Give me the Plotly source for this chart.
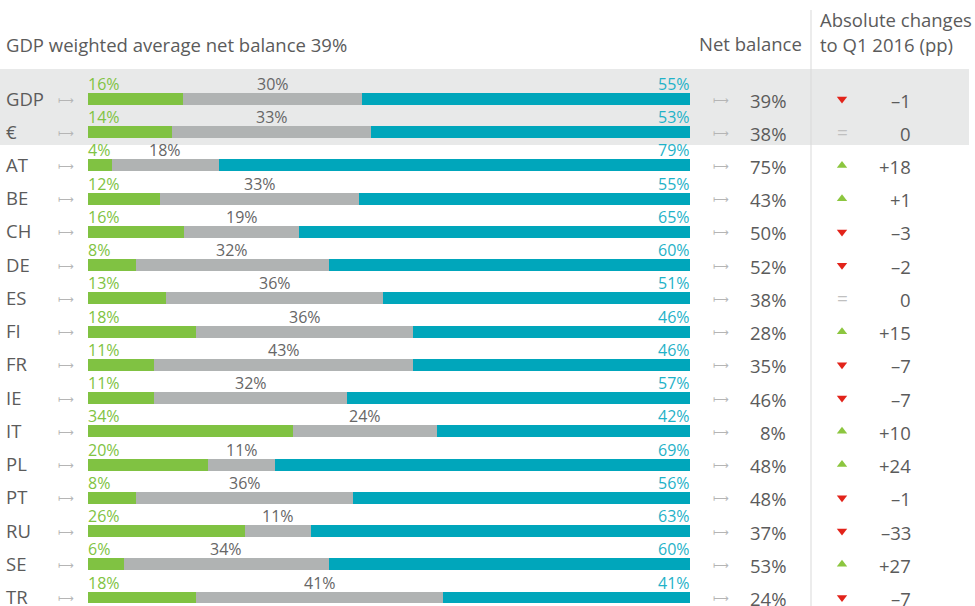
import plotly.graph_objects as go

countries = ["GDP", "€", "AT", "BE", "CH", "DE", "ES", "FI", "FR", "IE", "IT", "PL", "PT", "RU", "SE", "TR"]
green_vals = [16, 14, 4, 12, 16, 8, 13, 18, 11, 11, 34, 20, 8, 26, 6, 18]
gray_vals = [30, 33, 18, 33, 19, 32, 36, 36, 43, 32, 24, 11, 36, 11, 34, 41]
blue_vals = [55, 53, 79, 55, 65, 60, 51, 46, 46, 57, 42, 69, 56, 63, 60, 41]
net_balance = [39, 38, 75, 43, 50, 52, 38, 28, 35, 46, 8, 48, 48, 37, 53, 24]
abs_change = [-1, 0, 18, 1, -3, -2, 0, 15, -7, -7, 10, 24, -1, -33, 27, -7]

W, H = 975, 606
FONT = "Open Sans"
C_GREEN, C_GRAY, C_BLUE = "#80c242", "#b0b3b3", "#00a6bb"
T_GREEN, T_GRAY, T_BLUE, T_DARK = "#80c342", "#666666", "#1fb2c8", "#5b5b5b"

rows = list(range(len(countries)))
totals = [g + m + b for g, m, b in zip(green_vals, gray_vals, blue_vals)]
gn = [100 * g / t for g, t in zip(green_vals, totals)]
mn = [100 * m / t for m, t in zip(gray_vals, totals)]
bn = [100 * b / t for b, t in zip(blue_vals, totals)]

fig = go.Figure()
for vals, col in [(gn, C_GREEN), (mn, C_GRAY), (bn, C_BLUE)]:
    fig.add_trace(go.Bar(x=vals, y=rows, orientation="h", marker=dict(color=col, line=dict(width=0)),
                         width=0.36, xaxis="x", yaxis="y", showlegend=False, hoverinfo="skip"))

# change markers
up_idx = [i for i, c in enumerate(abs_change) if c > 0]
dn_idx = [i for i, c in enumerate(abs_change) if c < 0]
fig.add_trace(go.Scatter(x=[842] * len(up_idx), y=up_idx, mode="markers", xaxis="x2", yaxis="y2",
                         marker=dict(symbol="triangle-up", size=9, color="#8cc63f", line=dict(width=0)),
                         showlegend=False, hoverinfo="skip"))
fig.add_trace(go.Scatter(x=[842] * len(dn_idx), y=dn_idx, mode="markers", xaxis="x2", yaxis="y2",
                         marker=dict(symbol="triangle-down", size=9, color="#e2231a", line=dict(width=0)),
                         showlegend=False, hoverinfo="skip"))

ann = []
def A(x, y, text, size, color, xanchor="left", xref="x2", yref="y2", yshift=0, **kw):
    ann.append(dict(x=x, y=y, text=text, xref=xref, yref=yref, xanchor=xanchor, yanchor="middle",
                    showarrow=False, yshift=yshift, font=dict(family=FONT, size=size, color=color), **kw))

for i in rows:
    A(4, i, countries[i], 18.5, T_DARK, yshift=1)
    A(66, i, "⟼", 11, "#b5b5b5", xanchor="center")
    A(0, i, f"{green_vals[i]}%", 16, T_GREEN, xref="x", yref="y", yshift=15, xshift=-2)
    A(gn[i] + mn[i] / 2, i, f"{gray_vals[i]}%", 16, T_GRAY, xanchor="center", xref="x", yref="y", yshift=15)
    A(100, i, f"{blue_vals[i]}%", 16, T_BLUE, xanchor="right", xref="x", yref="y", yshift=15, xshift=2)
    A(721, i, "⟼", 11, "#b5b5b5", xanchor="center")
    A(788, i, f"{net_balance[i]}%", 18.5, T_DARK, xanchor="right", yshift=-1)
    c = abs_change[i]
    txt = "0" if c == 0 else (f"+{c}" if c > 0 else f"–{abs(c)}")
    A(913, i, txt, 18.5, T_DARK, xanchor="right", yshift=-1)
    if c == 0:
        A(842, i, "=", 19, "#c0c0c0", xanchor="center")

A(4, 44, "GDP weighted average net balance 39%", 18.5, T_DARK, yref="y3")
A(804, 43, "Net balance", 18.5, T_DARK, xanchor="right", yref="y3")
A(818, 19, "Absolute changes", 18.5, T_DARK, yref="y3")
A(818, 44, "to Q1 2016 (pp)", 18.5, T_DARK, yref="y3")

# y range so that row 0 -> pixel 99, row 15 -> pixel 597.5
pitch = (597.5 - 99) / 15
top = -99 / pitch
bottom = top + H / pitch

shapes = [
    dict(type="rect", xref="paper", yref="y", x0=0, x1=969 / W, y0=-0.9, y1=1.385,
         fillcolor="#e8e9e9", line=dict(width=0), layer="below"),
    dict(type="line", xref="x2", yref="paper", x0=811, x1=811, y0=0, y1=1 - 10 / H,
         line=dict(color="#d9d9d9", width=1)),
]

fig.update_layout(
    width=W, height=H, margin=dict(l=0, r=0, t=0, b=0),
    paper_bgcolor="white", plot_bgcolor="rgba(0,0,0,0)",
    barmode="stack", bargap=0,
    xaxis=dict(domain=[88 / W, 690 / W], range=[0, 100], visible=False, fixedrange=True, anchor="y"),
    yaxis=dict(domain=[0, 1], range=[bottom, top], visible=False, anchor="x"),
    xaxis2=dict(domain=[0, 1], range=[0, W], visible=False, anchor="y2"),
    yaxis2=dict(domain=[0, 1], range=[bottom, top], visible=False, anchor="x2"),
    yaxis3=dict(domain=[0, 1], range=[H, 0], visible=False, anchor="x2"),
    annotations=ann, shapes=shapes,
)
fig.write_html("out.html")
